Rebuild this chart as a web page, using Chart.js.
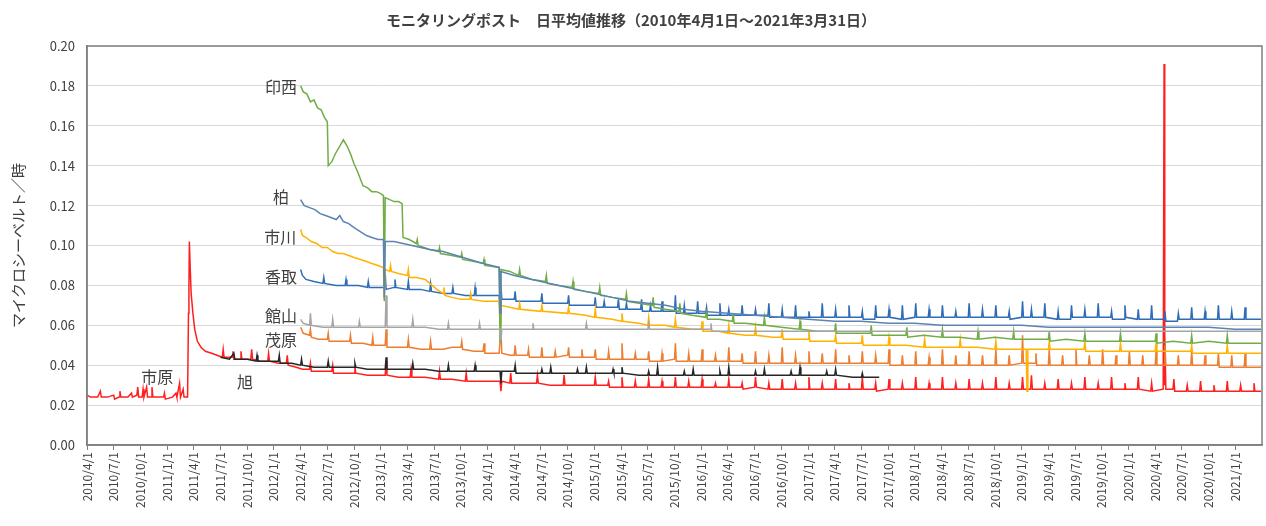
<!DOCTYPE html>
<html>
<head>
<meta charset="utf-8">
<title>モニタリングポスト 日平均値推移</title>
<script src="https://cdn.jsdelivr.net/npm/chart.js@4.4.0/dist/chart.umd.min.js"></script>
<style>
  html, body { margin: 0; padding: 0; background: #fff; }
  canvas { display: block; }
</style>
</head>
<body>
<canvas id="chart" width="1266" height="526"></canvas>
<script>
// x = months since 2010/4/1, y = µSv/h (daily means)
const tickLabels = [
  '2010/4/1','2010/7/1','2010/10/1','2011/1/1','2011/4/1','2011/7/1','2011/10/1',
  '2012/1/1','2012/4/1','2012/7/1','2012/10/1','2013/1/1','2013/4/1','2013/7/1','2013/10/1',
  '2014/1/1','2014/4/1','2014/7/1','2014/10/1','2015/1/1','2015/4/1','2015/7/1','2015/10/1',
  '2016/1/1','2016/4/1','2016/7/1','2016/10/1','2017/1/1','2017/4/1','2017/7/1','2017/10/1',
  '2018/1/1','2018/4/1','2018/7/1','2018/10/1','2019/1/1','2019/4/1','2019/7/1','2019/10/1',
  '2020/1/1','2020/4/1','2020/7/1','2020/10/1','2021/1/1'
];

const ichihara = [[0,0.025],[0.4,0.024],[1.2,0.024],[1.5,0.027],[1.6,0.024],[2.3,0.024],[3.0,0.025],[3.1,0.023],[3.6,0.024],[3.7,0.027],[3.8,0.024],[4.6,0.024],[5.0,0.026],[5.1,0.024],[5.6,0.025],[5.7,0.029],[5.8,0.024],[6.2,0.024],[6.3,0.028],[6.4,0.024],[6.7,0.029],[6.8,0.024],[7.2,0.024],[7.3,0.029],[7.4,0.024],[8.2,0.024],[8.6,0.024],[8.7,0.026],[8.8,0.023],[9.6,0.024],[10.0,0.026],[10.1,0.024],[10.4,0.031],[10.5,0.024],[10.8,0.028],[10.9,0.024],[11.3,0.024],[11.4,0.066],[11.45,0.079],[11.5,0.102],[11.6,0.088],[11.7,0.076],[11.9,0.066],[12.1,0.058],[12.4,0.052],[12.8,0.049],[13.3,0.047],[14.0,0.046],[14.6,0.045],[15.2,0.044],[15.3,0.048],[15.4,0.044],[16.3,0.044],[16.4,0.047],[16.5,0.043],[17.2,0.043],[17.3,0.047],[17.4,0.043],[18.4,0.043],[18.5,0.048],[18.6,0.043],[19.5,0.042],[20.3,0.042],[20.4,0.046],[20.5,0.042],[21.5,0.041],[22.4,0.041],[22.5,0.045],[22.6,0.040],[23.5,0.039],[24.2,0.038],[25.0,0.038],[25.1,0.041],[25.2,0.037],[26.5,0.037],[27.5,0.037],[27.6,0.040],[27.7,0.036],[29,0.036],[30.0,0.036],[30.1,0.039],[30.2,0.036],[31.5,0.035],[32.5,0.035],[33.5,0.035],[33.6,0.042],[33.7,0.035],[35,0.034],[36.3,0.034],[36.4,0.038],[36.5,0.034],[38,0.034],[39.5,0.033],[39.6,0.037],[39.7,0.033],[41,0.033],[42.5,0.032],[42.6,0.036],[42.7,0.032],[44,0.032],[45.5,0.032],[46.4,0.032],[46.5,0.027],[46.6,0.032],[47.5,0.031],[47.6,0.036],[47.7,0.031],[49,0.031],[50.5,0.031],[50.6,0.035],[50.7,0.031],[52,0.030],[53.5,0.030],[53.6,0.035],[53.7,0.030],[55,0.030],[57,0.030],[57.1,0.034],[57.2,0.030],[58.5,0.030],[58.6,0.032],[58.7,0.029],[60,0.029],[60.1,0.034],[60.2,0.029],[61.5,0.029],[61.6,0.032],[61.7,0.029],[63,0.029],[63.1,0.033],[63.2,0.029],[64.5,0.029],[64.6,0.032],[64.7,0.029],[66,0.029],[66.1,0.034],[66.2,0.029],[67.5,0.029],[67.6,0.032],[67.7,0.029],[69,0.029],[69.1,0.033],[69.2,0.029],[70.5,0.029],[70.6,0.031],[70.7,0.029],[72,0.029],[72.1,0.033],[72.2,0.029],[73.5,0.029],[73.6,0.031],[73.7,0.028],[75,0.029],[75.1,0.034],[75.2,0.029],[76.5,0.028],[76.6,0.031],[76.7,0.028],[78,0.028],[78.1,0.033],[78.2,0.028],[79.5,0.028],[79.6,0.031],[79.7,0.028],[81,0.028],[81.1,0.034],[81.2,0.028],[82.5,0.028],[82.6,0.031],[82.7,0.028],[84,0.028],[84.1,0.033],[84.2,0.028],[85.5,0.028],[85.6,0.031],[85.7,0.028],[87,0.028],[87.1,0.034],[87.2,0.028],[88.5,0.028],[88.6,0.031],[88.7,0.027],[90,0.028],[90.1,0.033],[90.2,0.028],[91.5,0.028],[91.6,0.031],[91.7,0.028],[93,0.028],[93.1,0.034],[93.2,0.028],[94.5,0.028],[94.6,0.031],[94.7,0.028],[96,0.028],[96.1,0.034],[96.2,0.028],[97.5,0.028],[97.6,0.031],[97.7,0.028],[99,0.028],[99.1,0.033],[99.2,0.028],[100.5,0.028],[100.6,0.031],[100.7,0.028],[102,0.028],[102.1,0.034],[102.2,0.028],[103.5,0.028],[103.6,0.031],[103.7,0.028],[105,0.028],[105.1,0.034],[105.2,0.028],[106,0.028],[106.1,0.035],[106.2,0.028],[107.5,0.028],[107.6,0.031],[107.7,0.028],[109,0.028],[109.1,0.033],[109.2,0.028],[110.5,0.028],[110.6,0.031],[110.7,0.028],[112,0.028],[112.1,0.034],[112.2,0.028],[113.5,0.028],[113.6,0.031],[113.7,0.028],[115,0.028],[115.1,0.034],[115.2,0.028],[116.5,0.028],[116.6,0.031],[116.7,0.028],[118,0.028],[118.1,0.034],[118.2,0.028],[119.5,0.027],[119.6,0.031],[119.7,0.027],[120.9,0.028],[121.0,0.191],[121.05,0.030],[121.1,0.055],[121.2,0.028],[122,0.028],[122.1,0.033],[122.2,0.027],[123.5,0.027],[123.6,0.030],[123.7,0.027],[125,0.027],[125.1,0.032],[125.2,0.027],[126.5,0.027],[126.6,0.030],[126.7,0.027],[128,0.027],[128.1,0.032],[128.2,0.027],[129.5,0.027],[129.6,0.030],[129.7,0.027],[131,0.027],[131.1,0.031],[131.2,0.027],[131.9,0.027]];

const asahi = [[15,0.044],[16,0.043],[16.5,0.046],[16.6,0.043],[18,0.043],[19,0.042],[19.1,0.045],[19.2,0.042],[20.5,0.042],[21.5,0.042],[21.6,0.045],[21.7,0.041],[23,0.041],[24,0.040],[24.1,0.043],[24.2,0.040],[25.5,0.039],[27,0.039],[27.1,0.042],[27.2,0.039],[28.5,0.039],[30,0.039],[30.1,0.041],[30.2,0.039],[31.5,0.038],[33,0.038],[33.5,0.038],[33.6,0.044],[33.7,0.038],[35,0.038],[36.5,0.038],[36.6,0.041],[36.7,0.038],[38,0.038],[39.5,0.037],[40.5,0.037],[40.6,0.040],[40.7,0.037],[42,0.037],[43.5,0.037],[43.6,0.040],[43.7,0.037],[45,0.037],[46.4,0.037],[46.5,0.031],[46.6,0.037],[48,0.037],[48.1,0.040],[48.2,0.036],[50,0.036],[51,0.036],[51.1,0.038],[51.2,0.036],[52,0.036],[52.1,0.039],[52.2,0.036],[54,0.036],[55,0.036],[55.1,0.038],[55.2,0.036],[56,0.036],[56.1,0.039],[56.2,0.036],[58,0.036],[59,0.036],[59.1,0.038],[59.2,0.036],[60,0.036],[60.1,0.039],[60.2,0.036],[62,0.035],[63,0.035],[63.1,0.037],[63.2,0.035],[64,0.035],[64.1,0.039],[64.2,0.035],[66,0.035],[67,0.035],[67.1,0.037],[67.2,0.035],[68,0.035],[68.1,0.038],[68.2,0.035],[70,0.035],[71,0.035],[71.1,0.037],[71.2,0.035],[72,0.035],[72.1,0.039],[72.2,0.035],[74,0.035],[75,0.035],[75.1,0.037],[75.2,0.035],[76,0.035],[76.1,0.038],[76.2,0.035],[78,0.035],[79,0.035],[79.1,0.037],[79.2,0.035],[80,0.035],[80.1,0.039],[80.2,0.035],[82,0.035],[83,0.035],[83.1,0.037],[83.2,0.035],[84,0.035],[84.1,0.038],[84.2,0.035],[86,0.034],[87,0.034],[87.1,0.036],[87.2,0.034],[88,0.034],[89,0.034]];

const mobara = [[24,0.059],[24.3,0.056],[25,0.055],[25.1,0.058],[25.2,0.054],[26,0.053],[27,0.053],[27.1,0.056],[27.2,0.052],[28.5,0.052],[29.5,0.052],[29.6,0.055],[29.7,0.051],[31,0.051],[32,0.050],[32.1,0.054],[32.2,0.050],[33.5,0.050],[33.6,0.058],[33.7,0.049],[35,0.049],[36,0.049],[36.1,0.053],[36.2,0.049],[37.5,0.048],[38.5,0.048],[38.6,0.052],[38.7,0.048],[40,0.048],[41,0.049],[42,0.049],[42.1,0.052],[42.2,0.048],[43.5,0.047],[44.5,0.047],[44.6,0.051],[44.7,0.046],[46.3,0.046],[46.5,0.058],[46.6,0.046],[47.5,0.045],[48,0.045],[48.1,0.050],[48.2,0.045],[49.5,0.045],[49.6,0.048],[49.7,0.044],[51,0.044],[51.1,0.049],[51.2,0.044],[52.5,0.044],[52.6,0.047],[52.7,0.044],[54,0.045],[54.1,0.049],[54.2,0.044],[55.5,0.044],[55.6,0.048],[55.7,0.044],[57,0.044],[57.1,0.048],[57.2,0.043],[58.5,0.043],[58.6,0.047],[58.7,0.043],[60,0.043],[60.1,0.051],[60.2,0.043],[61.5,0.043],[61.6,0.046],[61.7,0.043],[63,0.043],[63.1,0.047],[63.2,0.042],[64.5,0.042],[64.6,0.046],[64.7,0.042],[66,0.043],[66.1,0.051],[66.2,0.042],[67.5,0.042],[67.6,0.046],[67.7,0.042],[69,0.042],[69.1,0.048],[69.2,0.042],[70.5,0.042],[70.6,0.045],[70.7,0.042],[72,0.042],[72.1,0.049],[72.2,0.042],[73.5,0.042],[73.6,0.046],[73.7,0.041],[75,0.041],[75.1,0.047],[75.2,0.041],[76.5,0.041],[76.6,0.045],[76.7,0.041],[78,0.041],[78.1,0.049],[78.2,0.041],[79.5,0.041],[79.6,0.045],[79.7,0.041],[81,0.041],[81.1,0.047],[81.2,0.041],[82.5,0.041],[82.6,0.046],[82.7,0.041],[84,0.041],[84.1,0.048],[84.2,0.041],[85.5,0.041],[85.6,0.045],[85.7,0.041],[87,0.041],[87.1,0.047],[87.2,0.041],[88.5,0.041],[88.6,0.045],[88.7,0.041],[90,0.041],[90.1,0.048],[90.2,0.040],[91.5,0.040],[91.6,0.045],[91.7,0.040],[93,0.040],[93.1,0.047],[93.2,0.040],[94.5,0.040],[94.6,0.044],[94.7,0.040],[96,0.040],[96.1,0.048],[96.2,0.040],[97.5,0.040],[97.6,0.045],[97.7,0.040],[99,0.040],[99.1,0.047],[99.2,0.040],[100.5,0.040],[100.6,0.045],[100.7,0.040],[102,0.040],[102.1,0.048],[102.2,0.040],[103.5,0.040],[103.6,0.045],[103.7,0.040],[105,0.041],[105.1,0.055],[105.2,0.041],[106.5,0.041],[106.6,0.046],[106.7,0.040],[108,0.040],[108.1,0.048],[108.2,0.040],[109.5,0.040],[109.6,0.045],[109.7,0.040],[111,0.040],[111.1,0.048],[111.2,0.040],[112.5,0.040],[112.6,0.045],[112.7,0.040],[114,0.040],[114.1,0.048],[114.2,0.040],[115.5,0.040],[115.6,0.045],[115.7,0.040],[117,0.040],[117.1,0.047],[117.2,0.040],[118.5,0.040],[118.6,0.045],[118.7,0.040],[120,0.040],[120.1,0.047],[120.2,0.040],[121,0.040],[121.1,0.050],[121.2,0.040],[122.5,0.040],[122.6,0.045],[122.7,0.040],[124,0.040],[124.1,0.047],[124.2,0.040],[125.5,0.040],[125.6,0.045],[125.7,0.040],[127,0.040],[127.1,0.046],[127.2,0.039],[128.5,0.039],[128.6,0.045],[128.7,0.039],[130,0.039],[130.1,0.046],[130.2,0.039],[131.9,0.039]];

const tateyama = [[24,0.063],[24.3,0.061],[25,0.060],[25.1,0.066],[25.2,0.060],[26.5,0.059],[27.5,0.059],[27.6,0.063],[27.7,0.059],[29,0.059],[30.5,0.059],[30.6,0.062],[30.7,0.059],[32,0.059],[33.5,0.059],[33.6,0.075],[33.7,0.059],[35,0.059],[36.5,0.059],[36.6,0.063],[36.7,0.059],[38,0.059],[39.5,0.058],[40.5,0.058],[40.6,0.061],[40.7,0.058],[42,0.058],[44,0.058],[44.1,0.061],[44.2,0.058],[46.4,0.058],[46.5,0.052],[46.6,0.058],[48,0.058],[50,0.058],[50.1,0.061],[50.2,0.058],[53,0.058],[56,0.058],[56.1,0.061],[56.2,0.058],[60,0.058],[63,0.058],[63.1,0.061],[63.2,0.058],[66,0.058],[70,0.058],[70.1,0.061],[70.2,0.057],[74,0.057],[78,0.057],[82,0.057],[86,0.057],[90,0.057],[96,0.057],[102,0.057],[108,0.057],[114,0.057],[120,0.057],[126,0.057],[131.9,0.057]];

const kashiwa = [[24,0.123],[24.4,0.120],[25,0.119],[25.6,0.118],[26.2,0.116],[26.8,0.115],[27.4,0.114],[28.0,0.113],[28.4,0.115],[28.8,0.112],[29.4,0.111],[30,0.109],[30.7,0.107],[31.4,0.105],[32,0.104],[32.7,0.103],[33.3,0.103],[33.4,0.074],[33.5,0.102],[34.5,0.102],[35.5,0.101],[36.5,0.100],[37.5,0.099],[38.5,0.098],[40,0.097],[41.5,0.095],[43,0.093],[44.5,0.091],[46.3,0.089],[46.4,0.066],[46.5,0.087],[48,0.085],[49,0.084],[51,0.082],[53,0.080],[55,0.078],[57,0.076],[59,0.074],[61,0.072],[63,0.071],[65,0.070],[67,0.068],[69,0.067],[72,0.066],[75,0.065],[78,0.064],[81,0.063],[84,0.062],[87,0.062],[90,0.061],[93,0.061],[96,0.060],[99,0.060],[102,0.060],[105,0.060],[108,0.059],[111,0.059],[114,0.059],[117,0.059],[120,0.059],[123,0.059],[126,0.059],[129,0.058],[131.9,0.058]];

const katori = [[24,0.088],[24.2,0.085],[24.6,0.083],[25.5,0.082],[26.5,0.081],[26.6,0.084],[26.7,0.081],[28,0.080],[29,0.080],[29.1,0.083],[29.2,0.080],[30.5,0.080],[31.5,0.079],[31.6,0.082],[31.7,0.079],[33,0.079],[33.4,0.079],[33.5,0.086],[33.6,0.078],[34.5,0.079],[34.6,0.083],[34.7,0.079],[36,0.078],[36.1,0.082],[36.2,0.078],[37.5,0.078],[38.5,0.077],[38.6,0.081],[38.7,0.077],[40,0.076],[41,0.076],[41.1,0.079],[41.2,0.076],[42.5,0.075],[43.5,0.075],[43.6,0.079],[43.7,0.075],[45,0.075],[46.3,0.075],[46.4,0.066],[46.5,0.080],[46.6,0.073],[47.5,0.073],[48,0.073],[48.1,0.077],[48.2,0.072],[50,0.072],[51,0.072],[51.1,0.076],[51.2,0.071],[53,0.071],[54,0.071],[54.1,0.075],[54.2,0.070],[56,0.070],[57,0.070],[57.1,0.074],[57.2,0.069],[58,0.069],[58.1,0.072],[58.2,0.069],[59,0.069],[59.6,0.069],[59.7,0.073],[59.8,0.068],[60.5,0.068],[60.6,0.071],[60.7,0.068],[61.5,0.068],[62.2,0.068],[62.3,0.073],[62.4,0.067],[63.2,0.067],[63.3,0.070],[63.4,0.067],[64.5,0.067],[64.6,0.072],[64.7,0.067],[65.5,0.067],[66,0.067],[66.1,0.075],[66.2,0.066],[67,0.066],[67.1,0.070],[67.2,0.066],[68,0.066],[68.5,0.066],[68.6,0.072],[68.7,0.066],[69.5,0.066],[69.6,0.069],[69.7,0.065],[70.5,0.065],[71,0.065],[71.1,0.071],[71.2,0.065],[72,0.065],[72.1,0.068],[72.2,0.065],[73.5,0.065],[73.6,0.070],[73.7,0.065],[74.5,0.065],[75,0.065],[75.1,0.068],[75.2,0.065],[76.5,0.065],[76.6,0.071],[76.7,0.064],[77.5,0.064],[78,0.064],[78.1,0.068],[78.2,0.064],[79.5,0.064],[79.6,0.070],[79.7,0.064],[80.5,0.064],[81,0.064],[81.1,0.067],[81.2,0.064],[82.5,0.064],[82.6,0.071],[82.7,0.064],[84,0.064],[84.1,0.068],[84.2,0.064],[85.5,0.064],[85.6,0.070],[85.7,0.064],[87,0.064],[87.1,0.067],[87.2,0.063],[88.5,0.063],[88.6,0.070],[88.7,0.064],[90,0.064],[90.1,0.068],[90.2,0.064],[91.5,0.063],[91.6,0.070],[91.7,0.063],[93,0.064],[93.1,0.071],[93.2,0.064],[94.5,0.064],[94.6,0.068],[94.7,0.064],[96,0.064],[96.1,0.070],[96.2,0.064],[97.5,0.064],[97.6,0.067],[97.7,0.064],[99,0.064],[99.1,0.071],[99.2,0.064],[100.5,0.064],[100.6,0.068],[100.7,0.064],[102,0.064],[102.1,0.070],[102.2,0.064],[103.5,0.064],[103.6,0.067],[103.7,0.063],[105,0.064],[105.1,0.072],[105.2,0.064],[106,0.064],[106.1,0.068],[106.2,0.064],[107.5,0.064],[107.6,0.071],[107.7,0.064],[109,0.063],[109.1,0.067],[109.2,0.063],[110.5,0.063],[110.6,0.070],[110.7,0.064],[112,0.064],[112.1,0.068],[112.2,0.064],[113.5,0.064],[113.6,0.071],[113.7,0.064],[115,0.064],[115.1,0.067],[115.2,0.063],[116.5,0.063],[116.6,0.070],[116.7,0.064],[118,0.063],[118.1,0.068],[118.2,0.063],[119.5,0.063],[119.6,0.070],[119.7,0.063],[121,0.063],[121.1,0.067],[121.2,0.062],[122.5,0.062],[122.6,0.066],[122.7,0.063],[124,0.063],[124.1,0.069],[124.2,0.063],[125.5,0.063],[125.6,0.067],[125.7,0.063],[127,0.063],[127.1,0.070],[127.2,0.063],[128.5,0.063],[128.6,0.067],[128.7,0.063],[130,0.063],[130.1,0.069],[130.2,0.063],[131.9,0.063]];

const ichikawa = [[24,0.108],[24.2,0.105],[24.6,0.104],[25.2,0.102],[25.8,0.101],[26.4,0.099],[27,0.099],[27.6,0.097],[28.2,0.096],[28.8,0.096],[29.4,0.095],[30,0.094],[30.7,0.093],[31.4,0.092],[32,0.091],[32.7,0.090],[33.3,0.089],[33.4,0.073],[33.5,0.088],[34,0.087],[34.1,0.090],[34.2,0.087],[35,0.086],[36,0.085],[36.1,0.088],[36.2,0.084],[37,0.084],[38,0.083],[38.5,0.081],[39.3,0.078],[40,0.076],[40.1,0.079],[40.2,0.075],[41,0.074],[42,0.073],[43,0.073],[43.1,0.076],[43.2,0.073],[44.5,0.072],[46.3,0.072],[46.4,0.060],[46.5,0.070],[47.5,0.069],[48.5,0.068],[48.6,0.071],[48.7,0.068],[51,0.067],[51.1,0.070],[51.2,0.067],[54,0.066],[54.1,0.069],[54.2,0.066],[56,0.065],[57,0.064],[57.1,0.068],[57.2,0.064],[59,0.063],[60,0.062],[60.1,0.066],[60.2,0.062],[62,0.061],[63,0.060],[63.1,0.064],[63.2,0.060],[65,0.060],[66,0.059],[66.1,0.063],[66.2,0.059],[68,0.058],[69,0.058],[69.1,0.062],[69.2,0.057],[71,0.057],[72,0.056],[72.1,0.060],[72.2,0.056],[74,0.055],[75,0.055],[75.1,0.059],[75.2,0.055],[77,0.054],[78,0.054],[78.1,0.058],[78.2,0.053],[80,0.053],[81,0.053],[81.1,0.057],[81.2,0.052],[83,0.052],[84,0.052],[84.1,0.055],[84.2,0.051],[86,0.051],[87,0.051],[87.1,0.055],[87.2,0.050],[89,0.050],[90,0.050],[90.1,0.054],[90.2,0.050],[92,0.050],[94,0.049],[94.1,0.053],[94.2,0.049],[96,0.049],[98,0.049],[98.1,0.053],[98.2,0.049],[100,0.049],[102,0.048],[102.1,0.052],[102.2,0.048],[104,0.048],[105.5,0.048],[105.6,0.027],[105.7,0.048],[107,0.048],[108,0.048],[108.1,0.052],[108.2,0.048],[110,0.048],[112,0.048],[112.1,0.052],[112.2,0.047],[114,0.047],[116,0.047],[116.1,0.051],[116.2,0.047],[118,0.047],[120,0.047],[120.1,0.051],[120.2,0.047],[122,0.047],[124,0.047],[124.1,0.050],[124.2,0.046],[126,0.046],[128,0.046],[128.1,0.050],[128.2,0.046],[131.9,0.046]];

const inzai = [[24,0.180],[24.3,0.177],[24.7,0.176],[25.1,0.172],[25.5,0.173],[25.9,0.169],[26.3,0.168],[26.7,0.164],[27.0,0.162],[27.1,0.140],[27.5,0.142],[27.9,0.146],[28.3,0.149],[28.8,0.153],[29.2,0.150],[29.6,0.146],[30.0,0.141],[30.4,0.137],[31.0,0.130],[31.5,0.129],[32.0,0.127],[32.5,0.127],[33.0,0.126],[33.3,0.125],[33.4,0.072],[33.5,0.124],[34.0,0.123],[34.5,0.122],[35.0,0.122],[35.4,0.121],[35.5,0.104],[36.2,0.103],[37,0.101],[37.1,0.103],[37.2,0.100],[38.5,0.098],[39.5,0.097],[39.6,0.099],[39.7,0.096],[41,0.095],[42,0.094],[42.1,0.096],[42.2,0.093],[43.5,0.092],[44.5,0.091],[44.6,0.093],[44.7,0.090],[46.3,0.089],[46.4,0.052],[46.5,0.088],[47.5,0.087],[48.5,0.085],[48.6,0.088],[48.7,0.085],[50,0.083],[51.5,0.082],[51.6,0.085],[51.7,0.081],[53,0.080],[54.5,0.079],[54.6,0.082],[54.7,0.078],[56,0.077],[57.5,0.076],[57.6,0.079],[57.7,0.075],[59,0.074],[60.5,0.073],[60.6,0.076],[60.7,0.072],[62,0.071],[63.5,0.070],[63.6,0.074],[63.7,0.069],[65,0.068],[66.5,0.067],[66.6,0.071],[66.7,0.066],[68,0.065],[69.5,0.064],[69.6,0.068],[69.7,0.063],[71,0.063],[72.5,0.062],[72.6,0.066],[72.7,0.061],[74,0.061],[76,0.060],[76.1,0.064],[76.2,0.060],[78,0.059],[80,0.058],[80.1,0.062],[80.2,0.058],[82,0.057],[84,0.057],[84.1,0.061],[84.2,0.056],[86,0.056],[88,0.056],[88.1,0.060],[88.2,0.055],[90,0.055],[92,0.055],[92.1,0.059],[92.2,0.054],[94,0.055],[96,0.054],[96.1,0.058],[96.2,0.054],[98,0.054],[100,0.053],[100.1,0.057],[100.2,0.053],[102,0.054],[104,0.053],[104.1,0.057],[104.2,0.053],[106,0.053],[108,0.053],[108.1,0.057],[108.2,0.052],[110,0.053],[112,0.052],[112.1,0.056],[112.2,0.052],[114,0.052],[116,0.052],[116.1,0.056],[116.2,0.052],[118,0.052],[120,0.052],[120.1,0.056],[120.2,0.051],[122,0.052],[124,0.051],[124.1,0.055],[124.2,0.051],[126,0.052],[128,0.051],[128.1,0.055],[128.2,0.051],[131.9,0.051]];

// station name annotations: anchor in data units (month, value)
const nameText  = ['印西', '柏', '市川', '香取', '館山', '茂原', '市原', '旭'];
const nameMonth = [23.6, 22.7, 23.5, 23.6, 23.6, 23.6, 7.9, 17.75];
const nameValue = [0.1795, 0.1245, 0.1045, 0.0845, 0.0645, 0.0525, 0.034, 0.0315];
const nameAlign = ['right', 'right', 'right', 'right', 'right', 'right', 'center', 'center'];

const FONT = '"Noto Sans CJK JP", "Noto Sans", sans-serif';
const TEXT = '#404040';

const line = (label, pairs, color) => ({
  label: label,
  data: pairs.map(p => ({ x: p[0], y: p[1] })),
  borderColor: color,
  borderWidth: 1.5,
  pointRadius: 0,
  fill: false,
  tension: 0,
});

const frameAndNames = {
  id: 'frameAndNames',
  afterDatasetsDraw(chart) {
    const { ctx, chartArea: a, scales: { x, y } } = chart;
    ctx.save();
    ctx.strokeStyle = '#7f7f7f';
    ctx.lineWidth = 1.5;
    ctx.strokeRect(a.left, a.top, a.right - a.left, a.bottom - a.top);
    ctx.font = '16px ' + FONT;
    ctx.fillStyle = TEXT;
    ctx.textBaseline = 'middle';
    nameText.forEach((t, i) => {
      ctx.textAlign = nameAlign[i];
      ctx.fillText(t, x.getPixelForValue(nameMonth[i]), y.getPixelForValue(nameValue[i]));
    });
    ctx.restore();
  }
};

new Chart(document.getElementById('chart').getContext('2d'), {
  type: 'line',
  data: {
    datasets: [
      line('館山', tateyama, '#a5a5a5'),
      line('柏', kashiwa, '#5b83b3'),
      line('印西', inzai, '#70ad47'),
      line('市川', ichikawa, '#ffb200'),
      line('香取', katori, '#2e6cb8'),
      line('茂原', mobara, '#ed7d31'),
      line('旭', asahi, '#262626'),
      line('市原', ichihara, '#ff1f1f'),
    ],
  },
  options: {
    responsive: false,
    animation: false,
    layout: { padding: { left: 0, right: 4, top: 0, bottom: 0 } },
    plugins: {
      legend: { display: false },
      tooltip: { enabled: false },
      title: {
        display: true,
        text: 'モニタリングポスト　日平均値推移（2010年4月1日～2021年3月31日）',
        color: TEXT,
        font: { family: FONT, size: 15, weight: 'bold' },
        padding: { top: 11, bottom: 17 },
      },
    },
    scales: {
      x: {
        type: 'linear',
        min: 0,
        max: 132,
        afterBuildTicks: (scale) => {
          scale.ticks = tickLabels.map((_, i) => ({ value: i * 3 }));
        },
        afterFit: (scale) => { scale.height = 81; },
        ticks: {
          autoSkip: false,
          maxRotation: 90,
          minRotation: 90,
          padding: 2,
          color: TEXT,
          font: { family: FONT, size: 12 },
          callback: (v) => tickLabels[Math.round(v / 3)],
        },
        grid: { drawOnChartArea: false, drawTicks: true, tickLength: 5, color: '#7f7f7f' },
        border: { display: true, color: '#7f7f7f', width: 1.5 },
      },
      y: {
        min: 0,
        max: 0.2,
        afterFit: (scale) => { scale.width = 87; },
        ticks: {
          stepSize: 0.02,
          padding: 12,
          color: TEXT,
          font: { family: FONT, size: 13 },
          callback: (v) => v.toFixed(2),
        },
        grid: { color: '#d9d9d9', drawTicks: false },
        border: { display: true, color: '#7f7f7f', width: 1.5 },
        title: {
          display: true,
          text: 'マイクロシーベルト／時',
          color: TEXT,
          font: { family: FONT, size: 15 },
          padding: { top: 9, bottom: 0 },
        },
      },
    },
  },
  plugins: [frameAndNames],
});
</script>
</body>
</html>
